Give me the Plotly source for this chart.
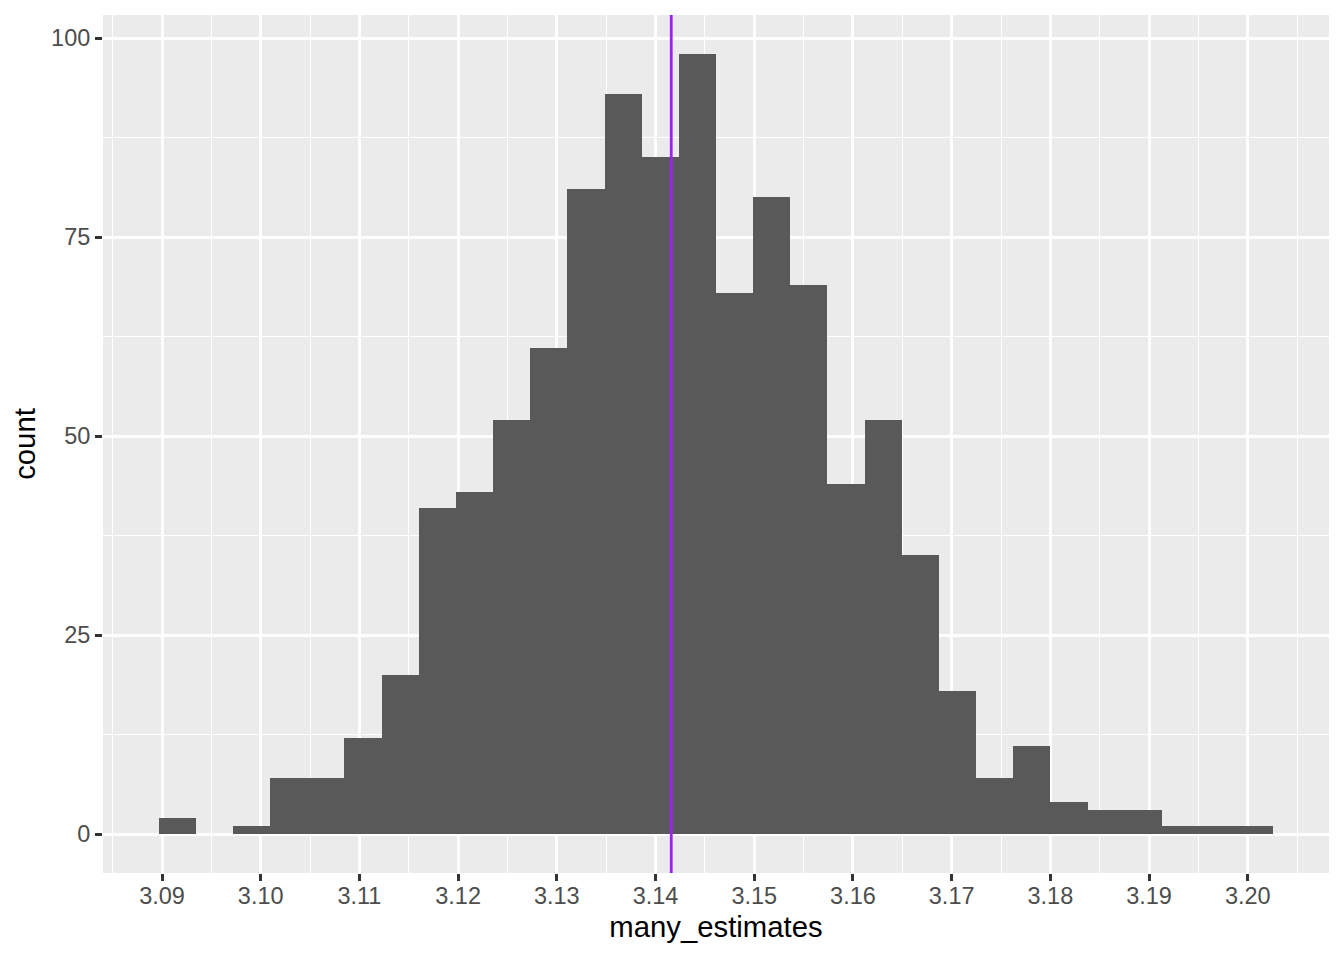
import math
import plotly.graph_objects as go

# ---- data (30 bins) ----
counts = [2, 0, 1, 7, 7, 12, 20, 41, 43, 52, 61, 81, 93, 85, 98,
          68, 80, 69, 44, 52, 35, 18, 7, 11, 4, 3, 3, 1, 1, 1]
estimate_min = 3.09155   # smallest estimate (centre of first bin)
estimate_max = 3.2007    # largest estimate (centre of last bin)
n_bins = 30
x_tick_vals = [3.09, 3.10, 3.11, 3.12, 3.13, 3.14, 3.15, 3.16, 3.17, 3.18, 3.19, 3.20]
y_tick_vals = [0, 25, 50, 75, 100]
reference_value = math.pi

# ggplot-style binning: bins centred on min..max
bin_width = (estimate_max - estimate_min) / (n_bins - 1)
bin_centers = [estimate_min + i * bin_width for i in range(n_bins)]

left_edge = estimate_min - bin_width / 2
right_edge = estimate_max + bin_width / 2
span = right_edge - left_edge
x_range = [left_edge - 0.05 * span, right_edge + 0.05 * span]
ymax = max(counts)
y_range = [-0.05 * ymax, ymax * 1.05]

FONT = "Liberation Sans"
GRID = "#FFFFFF"

fig = go.Figure()
fig.add_trace(go.Bar(
    x=bin_centers, y=counts, width=[bin_width] * n_bins,
    marker=dict(color="#595959", line=dict(width=0)),
    hoverinfo="x+y", showlegend=False,
))

fig.add_shape(type="line", xref="x", yref="paper",
              x0=reference_value, x1=reference_value, y0=0, y1=1,
              line=dict(color="#A020F0", width=2.8), layer="above")

fig.update_layout(
    width=1336, height=952,
    margin=dict(l=95, r=15, t=7, b=87),
    paper_bgcolor="white", plot_bgcolor="#EBEBEB",
    bargap=0,
    font=dict(family=FONT, color="#4D4D4D", size=23.5),
    xaxis=dict(
        range=x_range, tickvals=x_tick_vals, tickformat=".2f",
        showgrid=True, gridcolor=GRID, gridwidth=2.8, zeroline=False,
        ticks="outside", ticklen=7, tickwidth=2.8, tickcolor="#333333",
        tickfont=dict(size=23.5, color="#4D4D4D", family=FONT),
        ticklabelstandoff=-5,
        minor=dict(dtick=0.005, tick0=3.085, showgrid=True, gridcolor=GRID, gridwidth=1.4, ticks=""),
        showline=False,
        title=dict(text="many_estimates", font=dict(size=29.3, color="black", family=FONT), standoff=8),
    ),
    yaxis=dict(
        range=y_range, tickvals=y_tick_vals,
        showgrid=True, gridcolor=GRID, gridwidth=2.8, zeroline=False,
        ticks="outside", ticklen=7, tickwidth=2.8, tickcolor="#333333",
        tickfont=dict(size=23.5, color="#4D4D4D", family=FONT),
        minor=dict(tickvals=[12.5, 37.5, 62.5, 87.5], showgrid=True, gridcolor=GRID, gridwidth=1.4, ticks=""),
        showline=False,
        title=dict(text="count", font=dict(size=29.3, color="black", family=FONT), standoff=10),
    ),
)

fig.write_html("out.html")
